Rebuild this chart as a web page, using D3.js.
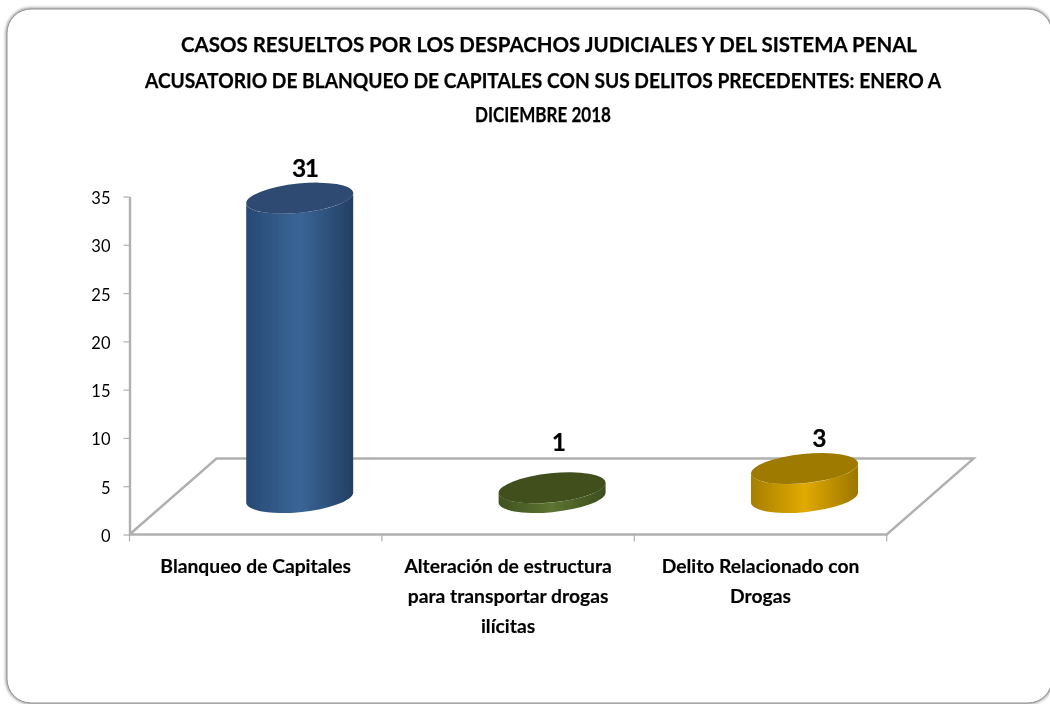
<!DOCTYPE html>
<html lang="es">
<head>
    <meta charset="UTF-8">
    <title>Casos resueltos 2018</title>
    <script src="https://d3js.org/d3.v7.min.js"></script>
    <style>
        body { margin: 0; background: #fff; }
        svg { display: block; }
        text { font-family: Lato, "Open Sans", sans-serif; fill: #000; }
        .title { font-size: 21px; font-weight: 700; text-anchor: middle; stroke: #000; stroke-width: 0.25px; }
        .cat { font-size: 19.3px; font-weight: 700; text-anchor: middle; stroke: #000; stroke-width: 0.15px; }
        .val { font-size: 24.5px; font-weight: 700; text-anchor: middle; letter-spacing: -1.5px; stroke: #000; stroke-width: 0.2px; }
        .yaxis text { font-size: 16.5px; }
        .yaxis path, .yaxis line, .floor, .xtick { stroke: #b0b0b0; fill: none; }
    </style>
</head>
<body>
<svg width="1050" height="704"></svg>
<script>
    // values
    const titleLines = [
        'CASOS RESUELTOS POR LOS DESPACHOS JUDICIALES Y DEL SISTEMA PENAL',
        'ACUSATORIO DE BLANQUEO DE CAPITALES CON SUS DELITOS PRECEDENTES: ENERO A',
        'DICIEMBRE 2018'
    ];
    const categories = ['Blanqueo de Capitales', 'Alteración de estructura', 'Delito Relacionado con'];
    const categoryLines = [
        ['Blanqueo de Capitales'],
        ['Alteración de estructura', 'para transportar drogas', 'ilícitas'],
        ['Delito Relacionado con', 'Drogas']
    ];
    const values = [31, 1, 3];
    const yTicks = [0, 5, 10, 15, 20, 25, 30, 35];

    const sideStops = [
        ['#274a73', '#3a6597', '#233f63'],
        ['#3f5220', '#5c7431', '#3c4d1e'],
        ['#a67f00', '#e0aa05', '#9c7700']
    ];
    const topColors = ['#2d4a72', '#3f4f1e', '#9f7a00'];

    const svg = d3.select('svg');
    const defs = svg.append('defs');

    const y = d3.scaleLinear().domain([0, 35]).range([534.5, 196.5]);
    const x = d3.scaleBand().domain(categories).range([129.5, 886.7]);

    // depth of the 3d floor
    const depthX = 87, depthY = -76;
    const barDX = 44, barDY = -37;
    const rx = 53.75, ry = 14.6, tilt = -5.8;

    defs.append('filter').attr('id', 'blur').append('feGaussianBlur').attr('stdDeviation', 1.6);
    // the reference is a slightly soft raster
    defs.append('filter').attr('id', 'soft').append('feGaussianBlur').attr('stdDeviation', 0.45);

    // frame
    svg.append('rect')
        .attr('x', 7).attr('y', 9).attr('width', 1045).attr('height', 694).attr('rx', 24)
        .attr('fill', 'none').attr('stroke', '#8a8a8a').attr('stroke-width', 2.5).attr('filter', 'url(#blur)');
    svg.append('rect')
        .attr('x', 7).attr('y', 9).attr('width', 1045).attr('height', 694).attr('rx', 24)
        .attr('fill', '#fff').attr('stroke', '#909090').attr('stroke-width', 1);

    const chart = svg.append('g').attr('filter', 'url(#soft)');

    // title
    const titleLengths = [736, 796, 136];
    const titleCenters = [549, 543, 543];
    chart.append('g').selectAll('text').data(titleLines).enter().append('text')
        .attr('class', 'title')
        .attr('x', (d, i) => titleCenters[i])
        .attr('y', (d, i) => [52, 88, 122][i])
        .attr('textLength', (d, i) => titleLengths[i])
        .attr('lengthAdjust', 'spacingAndGlyphs')
        .text(d => d);

    // floor
    const x0 = x.range()[0], x1 = x.range()[1], y0 = y(0);
    chart.append('path')
        .attr('class', 'floor')
        .attr('stroke-width', 2.4)
        .attr('d', d3.line()([[x0, y0], [x0 + depthX, y0 + depthY], [x1 + depthX, y0 + depthY], [x1, y0], [x0, y0]]));

    // x ticks on the band edges
    chart.append('g').selectAll('line')
        .data(categories.map(c => x(c)).concat([x1]))
        .enter().append('line')
        .attr('class', 'xtick')
        .attr('x1', d => d).attr('x2', d => d)
        .attr('y1', y0).attr('y2', y0 + 7)
        .attr('stroke-width', 1.2);

    // y axis
    const yAxis = chart.append('g')
        .attr('class', 'yaxis')
        .attr('transform', `translate(${x0},0)`)
        .call(d3.axisLeft(y).tickValues(yTicks).tickSize(6).tickSizeOuter(0).tickPadding(13));
    yAxis.select('path').attr('stroke-width', 2.4);
    yAxis.selectAll('line').attr('stroke-width', 1.2);
    yAxis.selectAll('text').attr('dy', '0.42em');

    // cylinders
    const rad = tilt * Math.PI / 180;
    const tx = Math.sqrt(rx * rx * Math.cos(rad) ** 2 + ry * ry * Math.sin(rad) ** 2);
    const ty = (rx * rx - ry * ry) * Math.sin(rad) * Math.cos(rad) / tx;

    categories.forEach((c, i) => {
        const cx = x(c) + x.bandwidth() / 2 + barDX;
        const yBase = y(0) + barDY, yTop = y(values[i]) + barDY;
        const gid = 'side' + i;
        const grad = defs.append('linearGradient').attr('id', gid);
        grad.append('stop').attr('offset', '0%').attr('stop-color', sideStops[i][0]);
        grad.append('stop').attr('offset', '50%').attr('stop-color', sideStops[i][1]);
        grad.append('stop').attr('offset', '100%').attr('stop-color', sideStops[i][2]);

        const side = `M${cx - tx},${yTop - ty}`
            + `L${cx - tx},${yBase - ty}`
            + `A${rx},${ry} ${tilt} 0 0 ${cx + tx},${yBase + ty}`
            + `L${cx + tx},${yTop + ty}`
            + `A${rx},${ry} ${tilt} 0 1 ${cx - tx},${yTop - ty}Z`;
        chart.append('path').attr('d', side).attr('fill', `url(#${gid})`);
        chart.append('ellipse')
            .attr('cx', cx).attr('cy', yTop)
            .attr('rx', rx).attr('ry', ry)
            .attr('transform', `rotate(${tilt} ${cx} ${yTop})`)
            .attr('fill', topColors[i]);
    });

    // value labels
    const labelNudge = [[5, -21], [6, -37], [14, -22]];
    chart.append('g').selectAll('text').data(values).enter().append('text')
        .attr('class', 'val')
        .attr('x', (d, i) => x(categories[i]) + x.bandwidth() / 2 + barDX + labelNudge[i][0])
        .attr('y', (d, i) => y(d) + barDY + labelNudge[i][1])
        .text(d => d);

    // category labels
    categoryLines.forEach((lines, i) => {
        chart.append('g').selectAll('text').data(lines).enter().append('text')
            .attr('class', 'cat')
            .attr('x', x(categories[i]) + x.bandwidth() / 2)
            .attr('y', (d, j) => 573 + j * 30)
            .text(d => d);
    });
</script>
</body>
</html>
